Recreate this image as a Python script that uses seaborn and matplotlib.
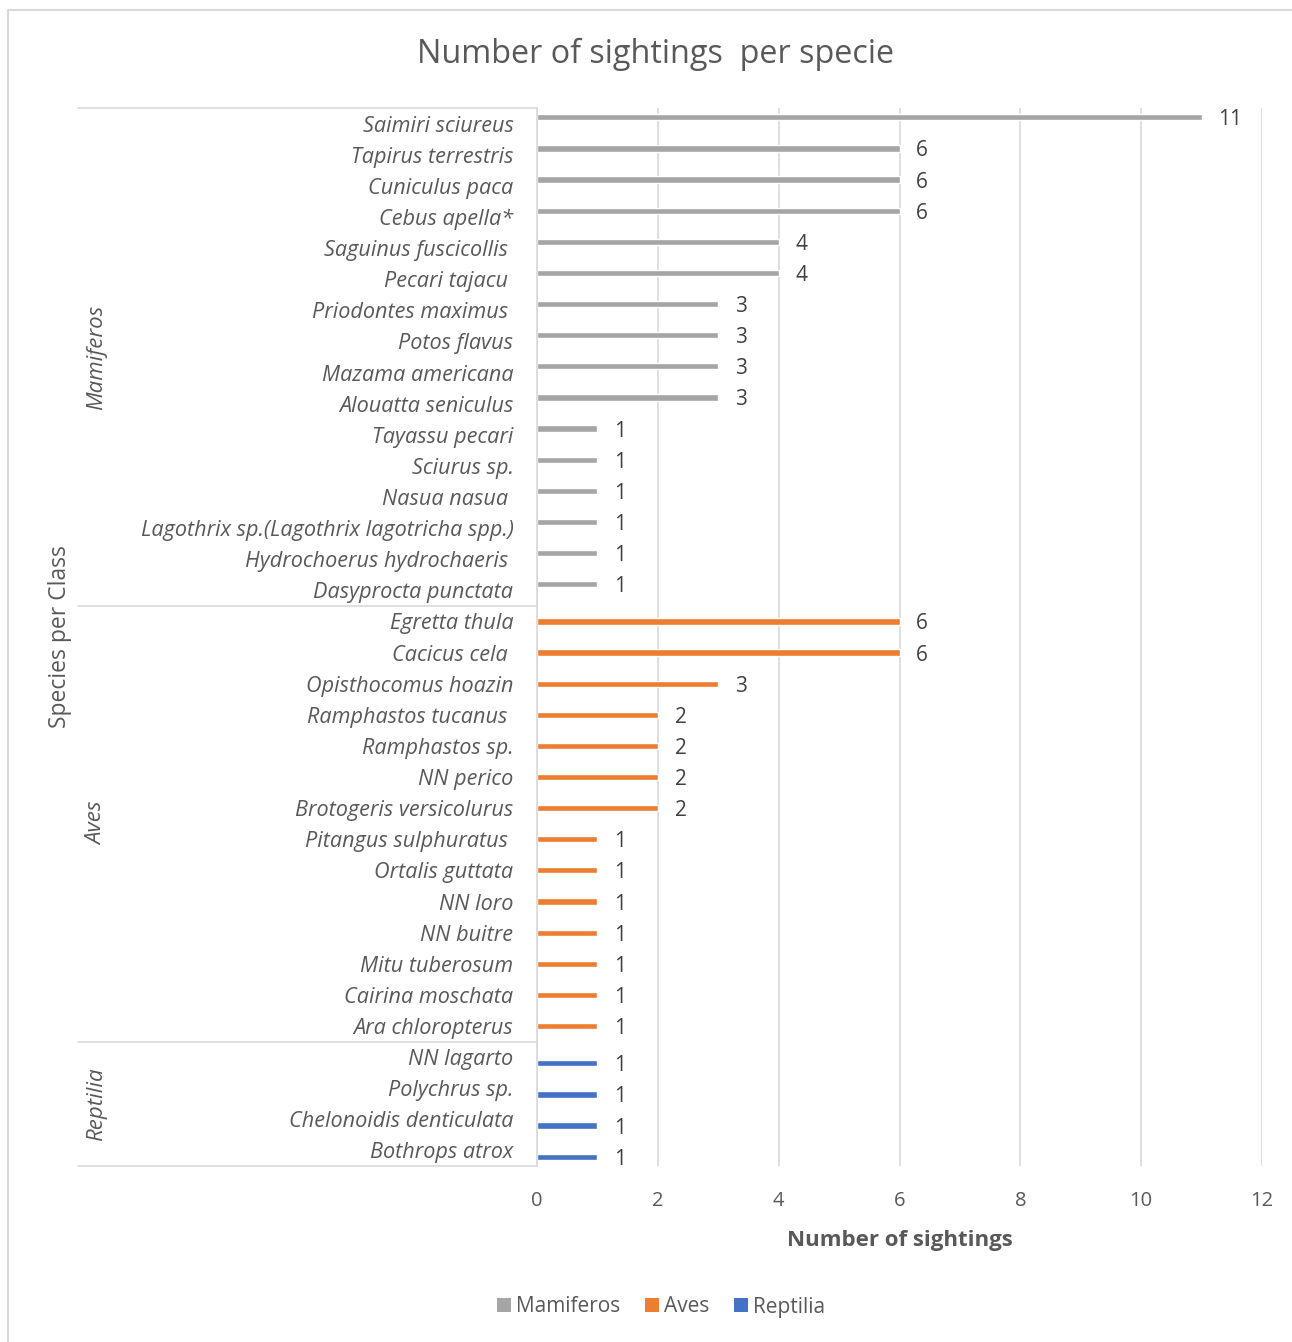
import matplotlib
matplotlib.use("Agg")
import matplotlib.pyplot as plt
import matplotlib.transforms as mtransforms
from matplotlib.lines import Line2D
from matplotlib.patches import Patch
import seaborn as sns
import pandas as pd

# ---- data -------------------------------------------------------------
mamiferos = [
    "Saimiri sciureus", "Tapirus terrestris", "Cuniculus paca", "Cebus apella*",
    "Saguinus fuscicollis ", "Pecari tajacu ", "Priodontes maximus ", "Potos flavus",
    "Mazama americana", "Alouatta seniculus", "Tayassu pecari", "Sciurus sp.",
    "Nasua nasua ", "Lagothrix sp.(Lagothrix lagotricha spp.)",
    "Hydrochoerus hydrochaeris ", "Dasyprocta punctata",
]
mamiferos_n = [11, 6, 6, 6, 4, 4, 3, 3, 3, 3, 1, 1, 1, 1, 1, 1]

aves = [
    "Egretta thula", "Cacicus cela ", "Opisthocomus hoazin", "Ramphastos tucanus ",
    "Ramphastos sp.", "NN perico", "Brotogeris versicolurus", "Pitangus sulphuratus ",
    "Ortalis guttata", "NN loro", "NN buitre", "Mitu tuberosum", "Cairina moschata",
    "Ara chloropterus",
]
aves_n = [6, 6, 3, 2, 2, 2, 2, 1, 1, 1, 1, 1, 1, 1]

reptilia = ["NN lagarto", "Polychrus sp.", "Chelonoidis denticulata", "Bothrops atrox"]
reptilia_n = [1, 1, 1, 1]

classes = ["Mamiferos", "Aves", "Reptilia"]
class_colors = ["#a5a5a5", "#ed7d31", "#4472c4"]
x_ticks = [0, 2, 4, 6, 8, 10, 12]

df = pd.DataFrame({
    "species": mamiferos + aves + reptilia,
    "count": mamiferos_n + aves_n + reptilia_n,
    "cls": ["Mamiferos"] * len(mamiferos) + ["Aves"] * len(aves) + ["Reptilia"] * len(reptilia),
})

# ---- figure -----------------------------------------------------------
W, H = 1292, 1342
sns.set_theme(style="white")
plt.rcParams["font.family"] = ["Open Sans", "DejaVu Sans"]
txt = "#595959"
grid_c = "#d9d9d9"

fig = plt.figure(figsize=(W / 100, H / 100), dpi=100)
ax = fig.add_axes([537 / W, 1 - 1166 / H, (1262 - 537) / W, (1166 - 108) / H])

sns.barplot(
    data=df, y="species", x="count", hue="cls", hue_order=classes,
    palette=class_colors, order=df["species"], orient="h",
    dodge=True, width=0.6, ax=ax, legend=False, saturation=1,
)

ax.set_xlim(0, 12)
ax.set_xticks(x_ticks)
ax.set_xticklabels([str(t) for t in x_ticks], fontsize=14.5, color=txt)
ax.tick_params(axis="x", length=0, pad=18)
ax.tick_params(axis="y", length=0, pad=17)
for lab in ax.get_yticklabels():
    lab.set_fontstyle("italic")
    lab.set_fontsize(15.6)
    lab.set_color(txt)

ax.xaxis.grid(True, color=grid_c, linewidth=1.2)
ax.yaxis.grid(False)
ax.set_axisbelow(True)
for s in ["top", "right", "bottom"]:
    ax.spines[s].set_visible(False)
ax.spines["left"].set_color(grid_c)
ax.spines["left"].set_linewidth(1.2)

# value labels
for cont in ax.containers:
    labels = ax.bar_label(cont, padding=12, fontsize=15, color="#404040")
    for t in labels:
        t.set_va("center_baseline")

ax.set_xlabel("Number of sightings", fontsize=16, fontweight="bold", color=txt, labelpad=14)
ax.set_ylabel("")

# multi-level category axis: class dividers and class names
blend = mtransforms.blended_transform_factory(fig.transFigure, ax.transData)
bounds = [-0.5, len(mamiferos) - 0.5, len(mamiferos) + len(aves) - 0.5,
          len(mamiferos) + len(aves) + len(reptilia) - 0.5]
for b in bounds:
    ax.add_line(Line2D([78 / W, 537 / W], [b, b], transform=blend,
                       color=grid_c, linewidth=1.2, clip_on=False))
for name, lo, hi in zip(classes, bounds[:-1], bounds[1:]):
    ax.text(97 / W, (lo + hi) / 2, name, transform=blend, rotation=90,
            ha="center", va="center", fontsize=16, fontstyle="italic", color=txt)

fig.text(60 / W, 1 - 637 / H, "Species per Class", rotation=90, ha="center",
         va="center", fontsize=16.5, color=txt)

fig.text(656 / W, 1 - 54 / H, "Number of sightings  per specie", ha="center",
         va="center", fontsize=23.3, color=txt)

handles = [Patch(facecolor=c, edgecolor="none", label=n) for n, c in zip(classes, class_colors)]
fig.legend(handles=handles, loc="center", bbox_to_anchor=(661 / W, 1 - 1307 / H),
           ncol=3, frameon=False, fontsize=15, handlelength=0.65, handleheight=0.65,
           handletextpad=0.25, columnspacing=1.2, labelcolor=txt)

# chart frame
fig.add_artist(Line2D([8 / W, 8 / W], [0, 1 - 10 / H], transform=fig.transFigure,
                      color=grid_c, linewidth=1.5))
fig.add_artist(Line2D([8 / W, 1], [1 - 10 / H, 1 - 10 / H], transform=fig.transFigure,
                      color=grid_c, linewidth=1.5))

fig.savefig("out.png", dpi=100, facecolor="white")
